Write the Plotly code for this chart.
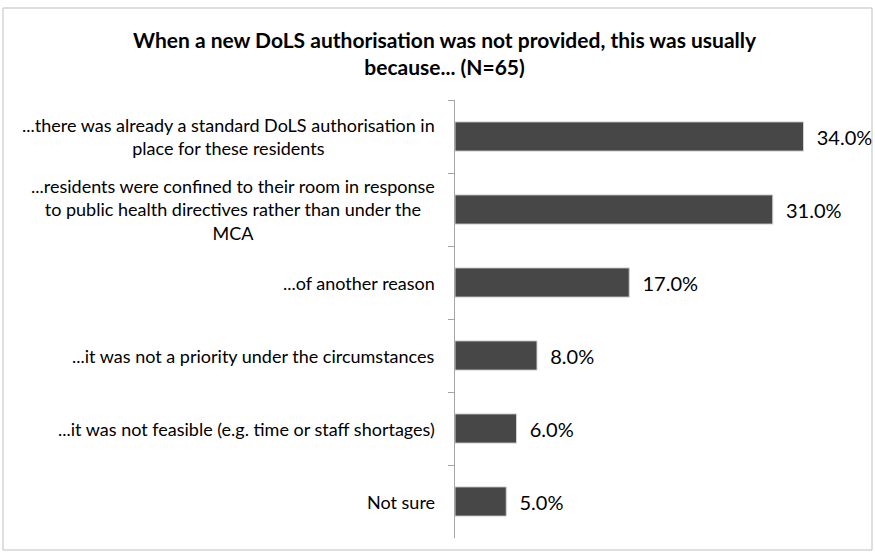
import plotly.graph_objects as go

categories = [
    "...there was already a standard DoLS authorisation in<br>place for these residents",
    "...residents were confined to their room in response<br>to public health directives rather than under the<br>MCA",
    "...of another reason",
    "...it was not a priority under the circumstances",
    "...it was not feasible (e.g. time or staff shortages)",
    "Not sure",
]
values = [34.0, 31.0, 17.0, 8.0, 6.0, 5.0]
value_labels = ["\u00a0\u00a0" + f"{v:.1f}%" for v in values]
title_text = "When a new DoLS authorisation was not provided, this was usually<br>because... (N=65)"

W, H = 875, 553
L, R, T, B = 455, 10, 100, 15
FONT = "Lato"

fig = go.Figure(go.Bar(
    x=values, y=categories, orientation="h",
    marker=dict(color="#474747", line=dict(color="#d0d0d0", width=1)),
    width=0.4,
    text=value_labels, textposition="outside", cliponaxis=False,
    textfont=dict(family=FONT, size=20, color="#000000"),
))

def px2x(p):
    return (p - L) / (W - L - R)

def py2y(p):
    return 1 - (p - T) / (H - T - B)

annotations = [dict(
    text=f"<b>{title_text}</b>", xref="paper", yref="paper",
    x=px2x(445), y=py2y(53), xanchor="center", yanchor="middle",
    showarrow=False, font=dict(family=FONT, size=21, color="#000000"),
)]
for c in categories:
    annotations.append(dict(
        text=c, xref="paper", yref="y", x=px2x(437), y=c,
        xanchor="right", yanchor="middle", align="center", showarrow=False,
        font=dict(family=FONT, size=18, color="#000000"),
    ))

fig.update_layout(
    width=W, height=H,
    margin=dict(l=L, r=R, t=T, b=B, autoexpand=False),
    paper_bgcolor="white", plot_bgcolor="white",
    showlegend=False,
    font=dict(family=FONT, color="#000000"),
    annotations=annotations,
    shapes=[dict(type="rect", xref="paper", yref="paper",
                 x0=px2x(3), x1=px2x(872), y0=py2y(550), y1=py2y(8),
                 line=dict(color="#bfbfbf", width=1))],
    xaxis=dict(range=[0, 40], visible=False, fixedrange=True),
    yaxis=dict(
        autorange="reversed", showline=True, linecolor="#a6a6a6", linewidth=1,
        ticks="outside", ticklen=6, tickcolor="#a6a6a6", tickson="boundaries",
        showgrid=False, showticklabels=False,
    ),
)

fig.write_html("out.html", config={"displayModeBar": False},
               post_script="document.body.style.margin='0';document.body.style.overflow='hidden';")
